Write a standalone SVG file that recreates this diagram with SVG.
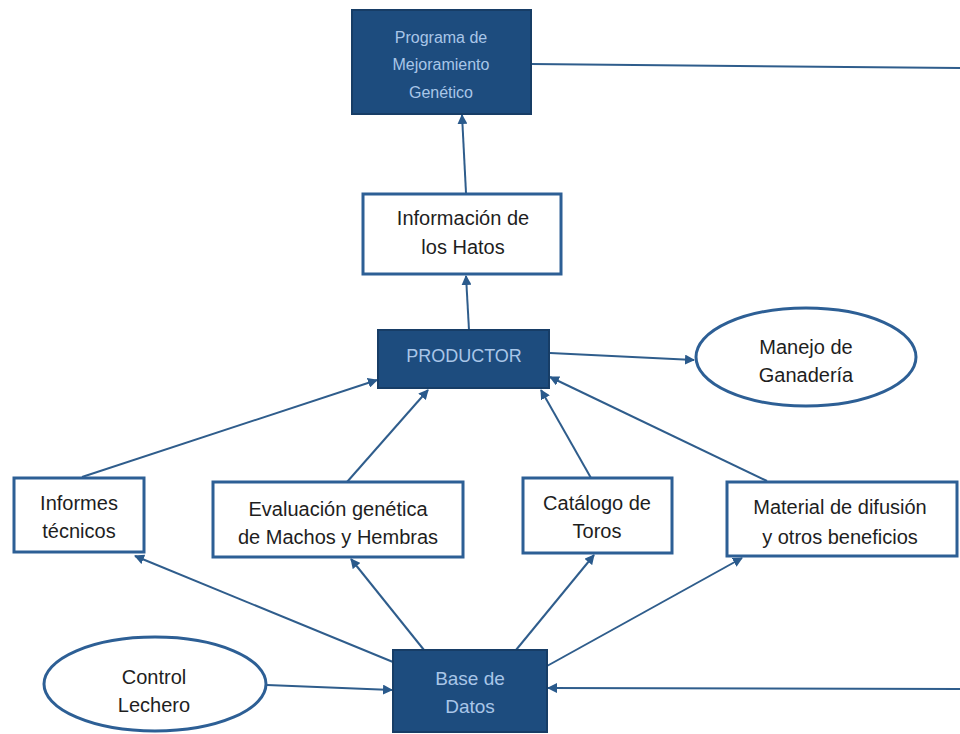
<svg xmlns="http://www.w3.org/2000/svg" width="960" height="734" viewBox="0 0 960 734">
<defs>
<marker id="ah" viewBox="0 0 10 10" refX="9" refY="5" markerWidth="10" markerHeight="10" markerUnits="userSpaceOnUse" orient="auto">
<path d="M0,0 L10,5 L0,10 z" fill="#2a5a8c"/>
</marker>
<style>
.dark{fill:#1d4c7e;stroke:#173d66;stroke-width:2}
.light{fill:#ffffff;stroke:#2d5f95;stroke-width:3}
.tl{font-family:"Liberation Sans",Arial,sans-serif;font-size:16px;fill:#a9c6e8;text-anchor:middle}
.td{font-family:"Liberation Sans",Arial,sans-serif;font-size:20px;fill:#1e1e1e;text-anchor:middle}
.c{stroke:#2f5d8c;stroke-width:2;fill:none}
.ca{stroke:#2f5d8c;stroke-width:2;fill:none;marker-end:url(#ah)}
</style>
</defs>
<rect width="960" height="734" fill="#fff"/>
<g id="connectors">
<line class="c" x1="531" y1="64" x2="960" y2="68"/>
<line class="ca" x1="466" y1="193" x2="462" y2="115"/>
<line class="ca" x1="469" y1="330" x2="466" y2="276"/>
<line class="ca" x1="550" y1="353" x2="694" y2="360"/>
<line class="ca" x1="82" y1="477" x2="377" y2="380"/>
<line class="ca" x1="347" y1="482" x2="428" y2="390"/>
<line class="ca" x1="591" y1="478" x2="541" y2="390"/>
<line class="ca" x1="767" y1="481" x2="550" y2="377"/>
<line class="ca" x1="393" y1="662" x2="135" y2="556"/>
<line class="ca" x1="424" y1="650" x2="351" y2="559"/>
<line class="ca" x1="516" y1="650" x2="594" y2="555"/>
<line class="ca" x1="547" y1="666" x2="742" y2="558"/>
<line class="ca" x1="267" y1="685" x2="392" y2="690"/>
<line class="ca" x1="960" y1="689" x2="548" y2="688"/>
</g>
<g id="programa">
<rect class="dark" x="352" y="10" width="179" height="104"/>
<text class="tl" x="441" y="43">Programa de</text>
<text class="tl" x="441" y="70">Mejoramiento</text>
<text class="tl" x="441" y="98">Genético</text>
</g>
<g id="info-hatos">
<rect class="light" x="363" y="194" width="198" height="80"/>
<text class="td" x="463" y="225">Información de</text>
<text class="td" x="463" y="254">los Hatos</text>
</g>
<g id="productor">
<rect class="dark" x="378" y="330" width="171" height="58"/>
<text class="tl" x="464" y="362" style="font-size:18px">PRODUCTOR</text>
</g>
<g id="manejo">
<ellipse cx="806" cy="357" rx="110" ry="49" fill="#fff" stroke="#2d5f95" stroke-width="3"/>
<text class="td" x="806" y="354">Manejo de</text>
<text class="td" x="806" y="382">Ganadería</text>
</g>
<g id="informes">
<rect class="light" x="14" y="478" width="130" height="74"/>
<text class="td" x="79" y="510">Informes</text>
<text class="td" x="79" y="538">técnicos</text>
</g>
<g id="evaluacion">
<rect class="light" x="213" y="482" width="250" height="75"/>
<text class="td" x="338" y="516">Evaluación genética</text>
<text class="td" x="338" y="544">de Machos y Hembras</text>
</g>
<g id="catalogo">
<rect class="light" x="523" y="478" width="149" height="75"/>
<text class="td" x="597" y="510">Catálogo de</text>
<text class="td" x="597" y="538">Toros</text>
</g>
<g id="material">
<rect class="light" x="727" y="482" width="230" height="74"/>
<text class="td" x="840" y="514">Material de difusión</text>
<text class="td" x="840" y="544">y otros beneficios</text>
</g>
<g id="control">
<ellipse cx="155" cy="684" rx="111" ry="47" fill="#fff" stroke="#2d5f95" stroke-width="3"/>
<text class="td" x="154" y="684">Control</text>
<text class="td" x="154" y="712">Lechero</text>
</g>
<g id="base">
<rect class="dark" x="393" y="650" width="154" height="82"/>
<text class="tl" x="470" y="685" style="font-size:19px">Base de</text>
<text class="tl" x="470" y="713" style="font-size:19px">Datos</text>
</g>
</svg>
